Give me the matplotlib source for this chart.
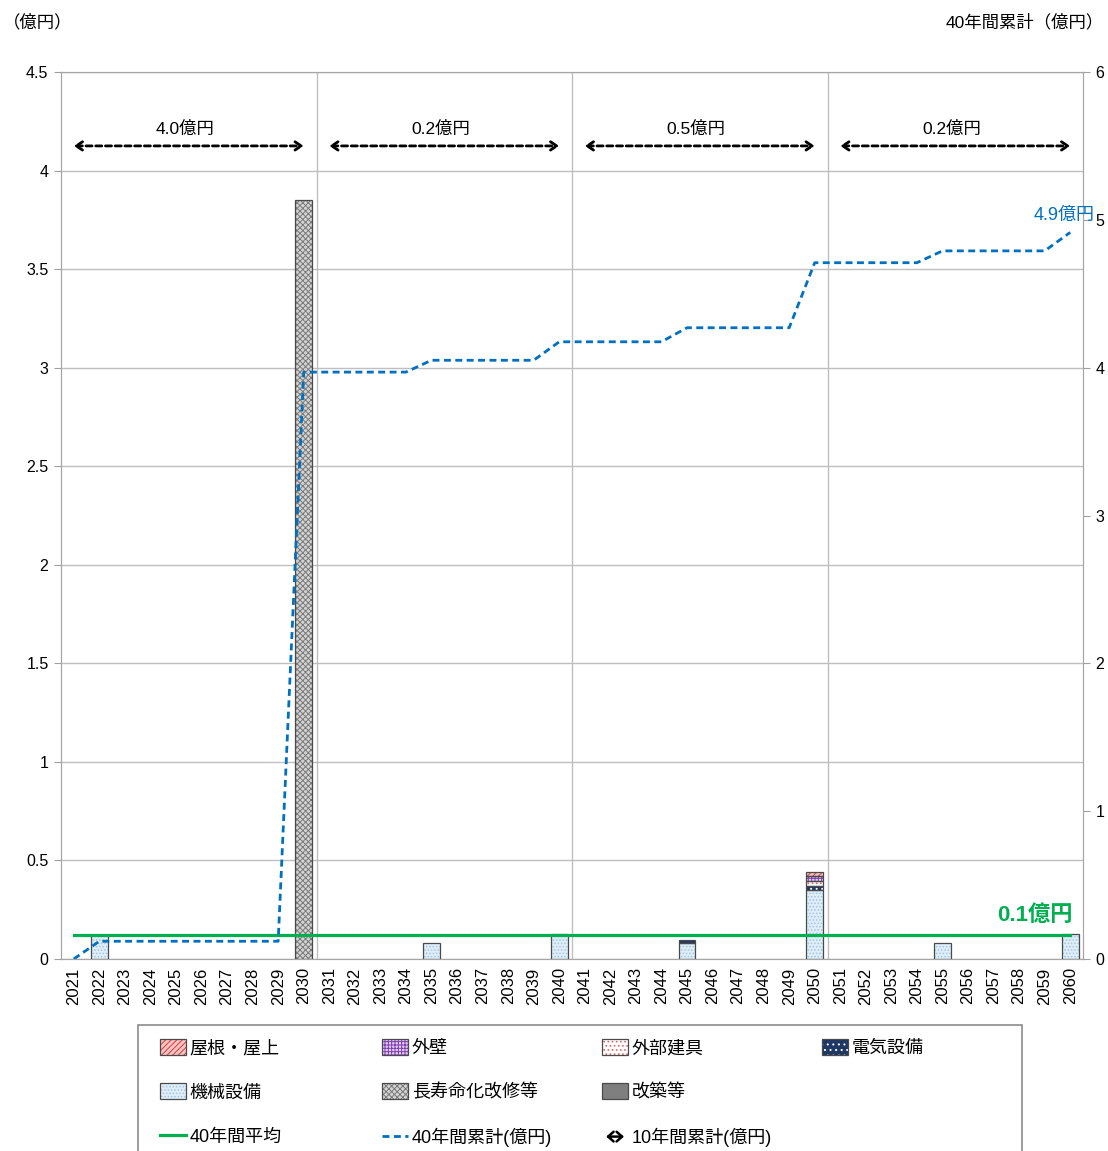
import numpy as np
import matplotlib
matplotlib.use('Agg')
import matplotlib.pyplot as plt
from matplotlib.patches import Patch, FancyArrowPatch, Rectangle
from matplotlib.lines import Line2D
from matplotlib.legend_handler import HandlerBase, HandlerTuple

plt.rcParams['font.family'] = ['Liberation Sans', 'Noto Sans CJK JP']
plt.rcParams['hatch.linewidth'] = 0.7

# data (億円)
years = list(range(2021, 2061))
cost_years = [2022, 2030, 2035, 2040, 2045, 2050, 2055, 2060]
roof     = [0, 0, 0, 0, 0, 0.02, 0, 0]        # 屋根・屋上
wall     = [0, 0, 0, 0, 0, 0.025, 0, 0]       # 外壁
fixtures = [0, 0, 0, 0, 0, 0.025, 0, 0]       # 外部建具
electric = [0, 0, 0, 0, 0.015, 0.02, 0, 0]    # 電気設備
machine  = [0.12, 0, 0.08, 0.125, 0.08, 0.35, 0.08, 0.125]  # 機械設備
longlife = [0, 3.85, 0, 0, 0, 0, 0, 0]        # 長寿命化改修等
rebuild  = [0, 0, 0, 0, 0, 0, 0, 0]           # 改築等

decade_labels = ['4.0億円', '0.2億円', '0.5億円', '0.2億円']
total_label = '4.9億円'
avg_label = '0.1億円'

def full(vals):
    arr = np.zeros(len(years))
    for y, v in zip(cost_years, vals):
        arr[years.index(y)] = v
    return arr

# bottom -> top stacking order
series = [
    ('長寿命化改修等', full(longlife), '#D4D4D4', '#7A7A7A', 'xxxxxx'),
    ('改築等', full(rebuild), '#7F7F7F', '#7F7F7F', None),
    ('機械設備', full(machine), '#DDEEF9', '#A9C3DA', '.....'),
    ('電気設備', full(electric), '#1F3864', '#FFFFFF', '...'),
    ('外部建具', full(fixtures), '#FFFFFF', '#E06666', '....'),
    ('外壁', full(wall), '#E3CCF2', '#7F3FAF', '+++++'),
    ('屋根・屋上', full(roof), '#F8C4C4', '#D83A3A', '//////'),
]

x = np.arange(len(years))
total = sum(s[1] for s in series)
cumulative = np.cumsum(total)
average = cumulative[-1] / len(years)

W, H = 1108, 1151
fig = plt.figure(figsize=(W / 100, H / 100), dpi=100)
ax = fig.add_axes([61 / W, 1 - 959 / H, (1083 - 61) / W, (959 - 72) / H])

bottom = np.zeros(len(years))
handles = {}
for name, vals, face, hcol, hatch in series:
    m = vals > 0
    if m.any():
        ax.bar(x[m], vals[m], 0.66, bottom=bottom[m], color=face, edgecolor=hcol,
               hatch=hatch, linewidth=0, zorder=2)
        ax.bar(x[m], vals[m], 0.66, bottom=bottom[m], fill=False, edgecolor='#4A4A4A',
               linewidth=0.9, zorder=3)
    handles[name] = (Patch(facecolor=face, edgecolor=hcol, hatch=hatch, linewidth=0),
                     Patch(fill=False, edgecolor='#4A4A4A', linewidth=0.9))
    bottom = bottom + vals

ax.plot([x[0], x[-1]], [average, average], color='#00B050', lw=2.3, zorder=4)
ax.text(39.1, average + 0.1, avg_label, color='#00B050', fontsize=16,
        fontweight='bold', ha='right', va='center', zorder=5)

# 10-year arrows
for i, lab in enumerate(decade_labels):
    x0, x1 = i * 10, i * 10 + 9
    ax.annotate('', xy=(x1, 4.125), xytext=(x0, 4.125),
                arrowprops=dict(arrowstyle='<->,head_length=0.45,head_width=0.3',
                                linestyle=(0, (2.2, 1.3)), lw=2, color='black',
                                shrinkA=0, shrinkB=0))
    ax.text((x0 + x1) / 2 - 0.15, 4.21, lab, fontsize=12.5, ha='center', va='center')

ax.set_xlim(-0.5, len(years) - 0.5)
ax.set_ylim(0, 4.5)
ax.set_yticks(np.arange(0, 4.51, 0.5))
ax.set_yticklabels(['0', '0.5', '1', '1.5', '2', '2.5', '3', '3.5', '4', '4.5'])
ax.set_xticks(x)
ax.set_xticklabels([str(y) for y in years], rotation=90, fontsize=12)
ax.tick_params(axis='x', length=0, pad=6)
ax.tick_params(axis='y', length=5, color='#A0A0A0', labelsize=11.5, pad=4)
ax.yaxis.grid(True, color='#BFBFBF', lw=1)
for xv in [9.5, 19.5, 29.5]:
    ax.axvline(xv, color='#BFBFBF', lw=1, zorder=1)
ax.set_axisbelow(True)
for sp in ax.spines.values():
    sp.set_color('#A6A6A6')

ax2 = ax.twinx()
ax2.plot(x, cumulative, color='#0070C0', lw=2, linestyle=(0, (2.5, 1.6)), zorder=4)
ax2.set_ylim(0, 6)
ax2.set_yticks(range(7))
ax2.tick_params(axis='y', length=5, color='#A0A0A0', labelsize=11.5, pad=4)
for sp in ax2.spines.values():
    sp.set_color('#A6A6A6')
ax2.text(39.95, 5.03, total_label, color='#0070C0', fontsize=13, ha='right',
         va='center', clip_on=False)

fig.text(3 / W, 1 - 22 / H, '（億円）', fontsize=12.5, va='center', ha='left')
fig.text(1104 / W, 1 - 22 / H, '40年間累計（億円）', fontsize=12.5, va='center', ha='right')

# legend
class ArrowHandler(HandlerBase):
    def create_artists(self, legend, orig_handle, xdescent, ydescent,
                       width, height, fontsize, trans):
        y = height / 2 - ydescent
        a = FancyArrowPatch((-xdescent + 3, y), (-xdescent + width - 3, y),
                            arrowstyle='<->,head_length=4,head_width=3.5',
                            lw=1.8, color='black', transform=trans,
                            shrinkA=0, shrinkB=0)
        return [a]

class ArrowKey:
    pass

fig.patches.append(Rectangle((138 / W, -0.05), (1022 - 138) / W, 0.05 + 1 - 1025 / H,
                             transform=fig.transFigure, facecolor='white',
                             edgecolor='#8C8C8C', lw=1.2))

avg_h = Line2D([], [], color='#00B050', lw=2.3)
cum_h = Line2D([], [], color='#0070C0', lw=2, linestyle=(0, (2.5, 1.6)))
arrow_h = ArrowKey()
columns = [
    [(handles['屋根・屋上'], '屋根・屋上'), (handles['機械設備'], '機械設備'), (avg_h, '40年間平均')],
    [(handles['外壁'], '外壁'), (handles['長寿命化改修等'], '長寿命化改修等'), (cum_h, '40年間累計(億円)')],
    [(handles['外部建具'], '外部建具'), (handles['改築等'], '改築等'), (arrow_h, '10年間累計(億円)')],
    [(handles['電気設備'], '電気設備')],
]
col_x = [160, 382, 602, 822]
for cx, col in zip(col_x, columns):
    leg = fig.legend([h for h, _ in col], [l for _, l in col], loc='upper left',
                     bbox_to_anchor=(cx / W, 1 - 1039 / H), frameon=False, fontsize=13,
                     labelspacing=1.44, handlelength=1.45, handleheight=1.0,
                     handletextpad=0.2, borderpad=0, borderaxespad=0,
                     handler_map={tuple: HandlerTuple(ndivide=1, pad=0),
                                  ArrowKey: ArrowHandler()})

fig.savefig('out.png', dpi=100)
